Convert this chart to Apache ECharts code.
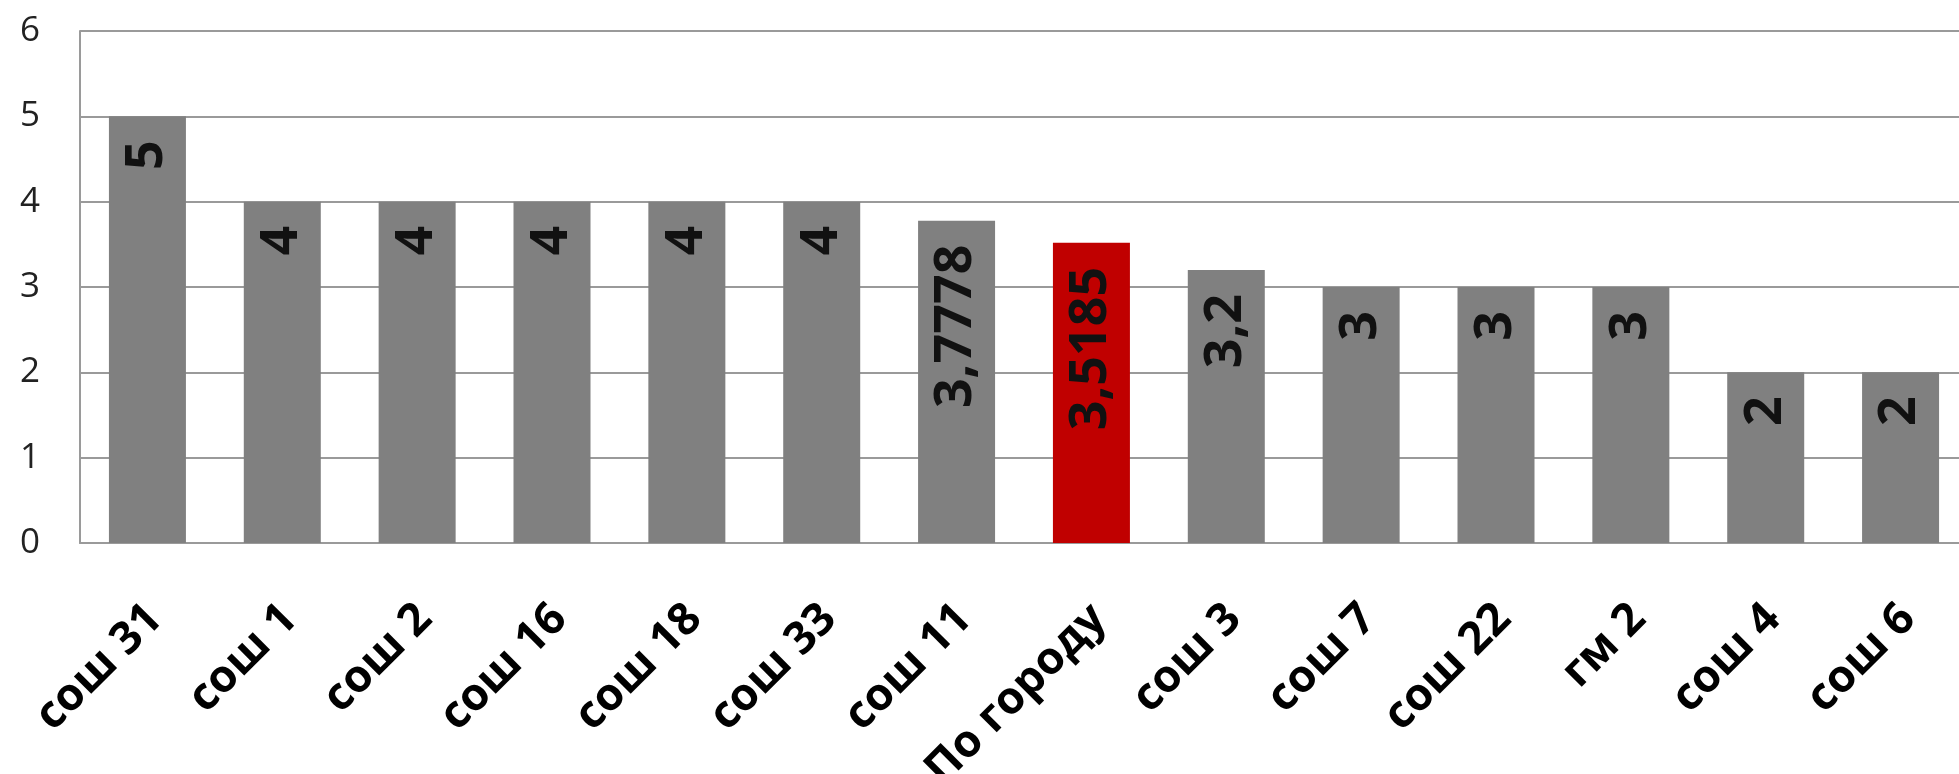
<!DOCTYPE html>
<html>
<head>
<meta charset="utf-8">
<script src="https://cdn.jsdelivr.net/npm/echarts@6/dist/echarts.min.js"></script>
<style>
html,body{margin:0;padding:0;background:#fff;}
#chart{width:1959px;height:774px;}
</style>
</head>
<body>
<div id="chart"></div>
<script>
var categories = ['сош 31','сош 1','сош 2','сош 16','сош 18','сош 33','сош 11','По городу','сош 3','сош 7','сош 22','гм 2','сош 4','сош 6'];
var values = [5, 4, 4, 4, 4, 4, 3.7778, 3.5185, 3.2, 3, 3, 3, 2, 2];
var highlight = 'По городу';
var yTicks = [0, 1, 2, 3, 4, 5, 6];

var FONT = '"Open Sans", "Noto Sans", sans-serif';
var chart = echarts.init(document.getElementById('chart'));
chart.setOption({
  backgroundColor: '#ffffff',
  animation: false,
  grid: { left: 80, top: 31, width: 1888, bottom: 231, containLabel: false, outerBoundsMode: 'none' },
  xAxis: {
    type: 'category',
    data: categories,
    axisLine: { show: true, lineStyle: { color: '#9a9a9a', width: 2 } },
    axisTick: { show: false },
    axisLabel: {
      interval: 0,
      rotate: 45,
      margin: 44,
      verticalAlign: 'top',
      lineHeight: 30,
      padding: [8, 12, 0, 0],
      fontFamily: FONT,
      fontWeight: 'bold',
      fontSize: 45,
      color: '#000'
    }
  },
  yAxis: {
    type: 'value',
    min: yTicks[0],
    max: yTicks[yTicks.length - 1],
    interval: 1,
    axisLine: { show: true, lineStyle: { color: '#9a9a9a', width: 2 } },
    axisTick: { show: false },
    splitLine: { show: true, lineStyle: { color: '#9a9a9a', width: 2 } },
    axisLabel: {
      margin: 40,
      fontFamily: FONT,
      fontSize: 35,
      color: '#222'
    }
  },
  series: [{
    type: 'bar',
    barWidth: 77,
    data: values.map(function (v, i) {
      return {
        value: v,
        itemStyle: { color: categories[i] === highlight ? '#c00000' : '#808080' }
      };
    }),
    label: {
      show: true,
      position: 'insideTop',
      rotate: 90,
      align: 'right',
      verticalAlign: 'middle',
      distance: 24,
      fontFamily: FONT,
      fontWeight: 'bold',
      fontSize: 52,
      color: '#111',
      formatter: function (p) { return String(p.value).replace('.', ','); }
    }
  }]
});
</script>
</body>
</html>
